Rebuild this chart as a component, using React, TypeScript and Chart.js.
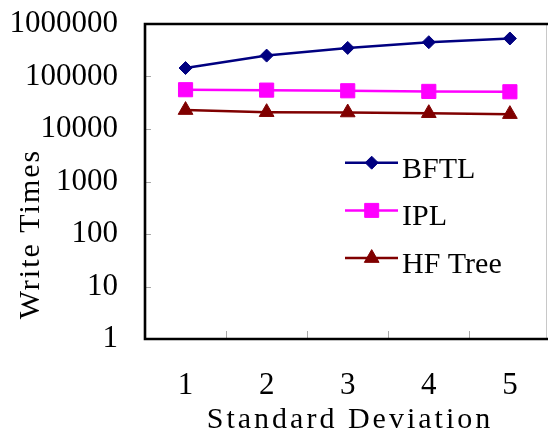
import React, { useEffect, useRef } from 'react';
import { Chart, registerables } from 'chart.js';

Chart.register(...registerables);

const categories = ['1', '2', '3', '4', '5'];
const bftl = [145000, 250000, 350000, 450000, 530000];
const ipl = [56000, 55000, 53500, 52000, 51200];
const hfTree = [22900, 20900, 20600, 20000, 19200];
const yTicks = [1, 10, 100, 1000, 10000, 100000, 1000000];
const seriesNames = ['BFTL', 'IPL', 'HF Tree'];
const seriesColors = ['#000080', '#FF00FF', '#800000'];
const xTitle = 'Standard Deviation';
const yTitle = 'Write Times';

const FONT = '"Liberation Serif", "Times New Roman", serif';

function drawMarker(ctx: CanvasRenderingContext2D, style: string, x: number, y: number, color: string) {
  ctx.save();
  ctx.fillStyle = color;
  ctx.strokeStyle = color;
  ctx.lineWidth = 1;
  ctx.beginPath();
  if (style === 'rectRot') {
    const r = 6.5;
    ctx.moveTo(x - r, y);
    ctx.lineTo(x, y - r);
    ctx.lineTo(x + r, y);
    ctx.lineTo(x, y + r);
    ctx.closePath();
  } else if (style === 'rect') {
    const s = 7;
    ctx.rect(x - s, y - s, 2 * s, 2 * s);
  } else {
    const r = 8.5;
    ctx.moveTo(x, y - r);
    ctx.lineTo(x + r * Math.sin((2 * Math.PI) / 3), y + r / 2);
    ctx.lineTo(x - r * Math.sin((2 * Math.PI) / 3), y + r / 2);
    ctx.closePath();
  }
  ctx.fill();
  ctx.stroke();
  ctx.restore();
}

const framePlugin = {
  id: 'frame',
  beforeDatasetsDraw(chart: any) {
    const { ctx, chartArea: a, scales } = chart;
    ctx.save();
    ctx.strokeStyle = '#a8a8a8';
    ctx.lineWidth = 1;
    yTicks.slice(1, -1).forEach((v) => {
      const y = Math.round(scales.y.getPixelForValue(v)) + 0.5;
      ctx.beginPath();
      ctx.moveTo(a.left, y);
      ctx.lineTo(a.left + 6, y);
      ctx.stroke();
    });
    for (let i = 1; i < categories.length; i++) {
      const x = Math.round(scales.x.getPixelForValue(i + 0.5)) + 0.5;
      ctx.beginPath();
      ctx.moveTo(x, a.bottom);
      ctx.lineTo(x, a.bottom - 8);
      ctx.stroke();
    }
    ctx.strokeStyle = '#c8c8c8';
    ctx.beginPath();
    ctx.moveTo(a.right - 1.5, a.top);
    ctx.lineTo(a.right - 1.5, a.bottom);
    ctx.stroke();
    ctx.strokeStyle = '#000';
    ctx.lineWidth = 2.6;
    ctx.beginPath();
    ctx.moveTo(a.right, a.top);
    ctx.lineTo(a.left, a.top);
    ctx.lineTo(a.left, a.bottom);
    ctx.lineTo(a.right, a.bottom);
    ctx.stroke();
    ctx.restore();
  },
  afterDraw(chart: any) {
    const { ctx } = chart;
    ctx.save();
    ctx.fillStyle = '#000';
    ctx.font = `30px ${FONT}`;
    // axis titles
    (ctx as any).letterSpacing = '3px';
    ctx.textAlign = 'center';
    ctx.textBaseline = 'alphabetic';
    ctx.fillText(xTitle, 350, 428);
    (ctx as any).letterSpacing = '2px';
    ctx.save();
    ctx.translate(38.5, 234);
    ctx.rotate(-Math.PI / 2);
    ctx.fillText(yTitle, 0, 0);
    ctx.restore();
    (ctx as any).letterSpacing = '0px';
    // legend
    ctx.textAlign = 'left';
    chart.data.datasets.forEach((ds: any, i: number) => {
      const y = 162.7 + i * 47.7;
      ctx.strokeStyle = ds.borderColor;
      ctx.lineWidth = 2.5;
      ctx.beginPath();
      ctx.moveTo(345, y);
      ctx.lineTo(398, y);
      ctx.stroke();
      drawMarker(ctx, ds.pointStyle, 371.7, y, ds.borderColor);
      ctx.fillStyle = '#000';
      ctx.fillText(ds.label, 402, y + 15);
    });
    ctx.restore();
  },
};

export default function App() {
  const ref = useRef<HTMLCanvasElement | null>(null);
  useEffect(() => {
    document.body.style.margin = '0';
    if (!ref.current) return;
    const toPts = (arr: number[]) => arr.map((v, i) => ({ x: i + 1, y: v }));
    const styles = ['rectRot', 'rect', 'triangle'];
    const radii = [6.5, 10, 8.5];
    const chart = new Chart(ref.current, {
      type: 'line',
      data: {
        datasets: [bftl, ipl, hfTree].map((arr, i) => ({
          label: seriesNames[i],
          data: toPts(arr),
          borderColor: seriesColors[i],
          backgroundColor: seriesColors[i],
          pointBackgroundColor: seriesColors[i],
          pointBorderColor: seriesColors[i],
          pointStyle: styles[i],
          pointRadius: radii[i],
          pointBorderWidth: 1,
          borderWidth: 2.5,
          tension: 0,
        })),
      },
      options: {
        animation: false,
        responsive: false,
        devicePixelRatio: 1,
        layout: { autoPadding: false, padding: { top: 24, left: 0, right: 0, bottom: 0 } },
        plugins: { legend: { display: false }, tooltip: { enabled: false }, title: { display: false } },
        scales: {
          x: {
            type: 'linear',
            min: 0.5,
            max: 5.47,
            grid: { display: false, drawTicks: false },
            border: { display: false },
            ticks: {
              autoSkip: false,
              maxRotation: 0,
              padding: 28,
              color: '#000',
              font: { family: FONT, size: 31 },
              callback: (v: any) => categories[Number(v) - 1] ?? '',
            },
            afterBuildTicks: (s: any) => {
              s.ticks = categories.map((_, i) => ({ value: i + 1 }));
            },
            afterFit: (s: any) => {
              s.height = 92;
              s.paddingLeft = 0;
              s.paddingRight = 0;
              s.paddingTop = 0;
              s.paddingBottom = 0;
            },
          },
          y: {
            type: 'logarithmic',
            min: 1,
            max: 1000000,
            grid: { display: false, drawTicks: false },
            border: { display: false },
            ticks: {
              autoSkip: false,
              padding: 27,
              color: '#000',
              font: { family: FONT, size: 31 },
              callback: (v: any) => String(v),
            },
            afterBuildTicks: (s: any) => {
              s.ticks = yTicks.map((v) => ({ value: v }));
            },
            afterFit: (s: any) => {
              s.width = 145;
              s.paddingLeft = 0;
              s.paddingRight = 0;
              s.paddingTop = 0;
              s.paddingBottom = 0;
            },
          },
        },
      } as any,
      plugins: [framePlugin],
    });
    return () => chart.destroy();
  }, []);
  return (
    <div style={{ width: 548, height: 431 }}>
      <canvas ref={ref} width={548} height={431} style={{ display: 'block' }} />
    </div>
  );
}
